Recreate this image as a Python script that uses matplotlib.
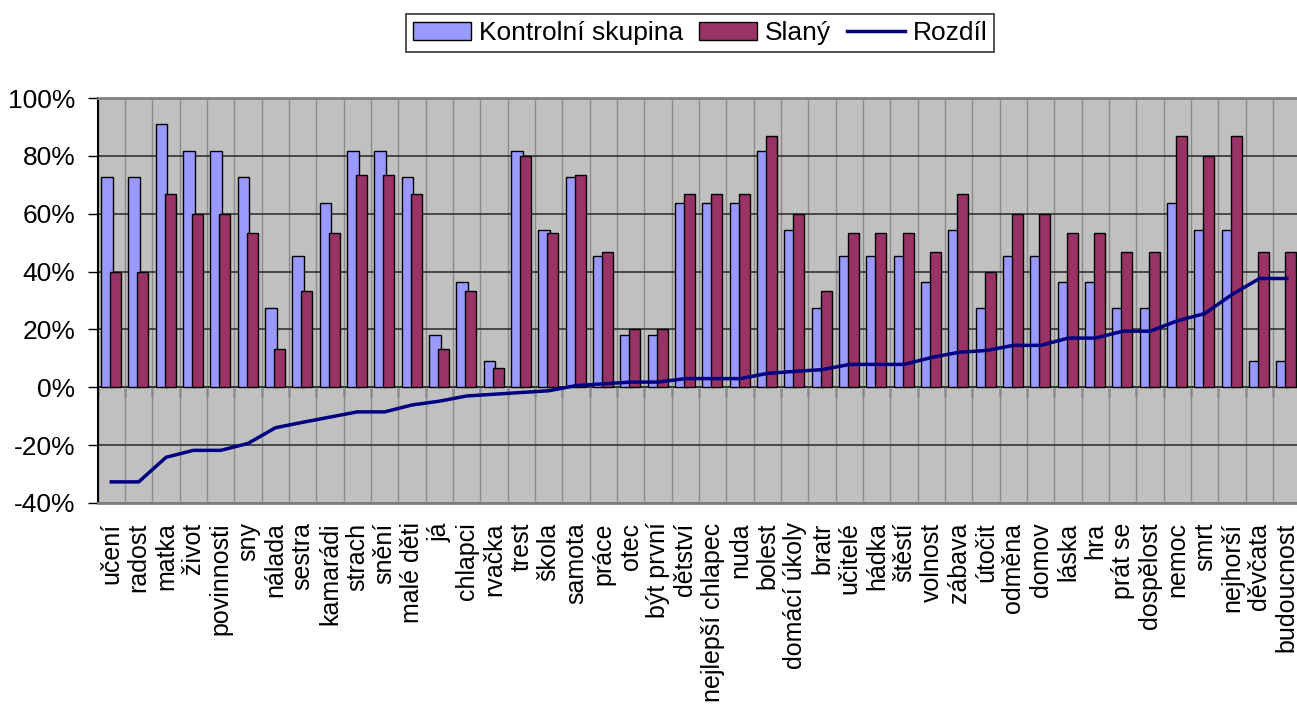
import numpy as np
import matplotlib
matplotlib.use("Agg")
import matplotlib.pyplot as plt
from matplotlib.patches import Patch
from matplotlib.lines import Line2D

plt.rcParams['font.family'] = ['Liberation Sans', 'DejaVu Sans']

# categories (sorted by difference)
categories = ["učení", "radost", "matka", "život", "povinnosti", "sny", "nálada",
              "sestra", "kamarádi", "strach", "snění", "malé děti", "já", "chlapci",
              "rvačka", "trest", "škola", "samota", "práce", "otec", "být první",
              "dětství", "nejlepší chlapec", "nuda", "bolest", "domácí úkoly", "bratr",
              "učitelé", "hádka", "štěstí", "volnost", "zábava", "útočit", "odměna",
              "domov", "láska", "hra", "prát se", "dospělost", "nemoc", "smrt",
              "nejhorší", "děvčata", "budoucnost"]

kontrolni = [72.7, 72.7, 90.9, 81.8, 81.8, 72.7, 27.3, 45.5, 63.6, 81.8, 81.8,
             72.7, 18.2, 36.4, 9.1, 81.8, 54.5, 72.7, 45.5, 18.2, 18.2, 63.6,
             63.6, 63.6, 81.8, 54.5, 27.3, 45.5, 45.5, 45.5, 36.4, 54.5, 27.3,
             45.5, 45.5, 36.4, 36.4, 27.3, 27.3, 63.6, 54.5, 54.5, 9.1, 9.1]

slany = [40.0, 40.0, 66.7, 60.0, 60.0, 53.3, 13.3, 33.3, 53.3, 73.3, 73.3,
         66.7, 13.3, 33.3, 6.7, 80.0, 53.3, 73.3, 46.7, 20.0, 20.0, 66.7,
         66.7, 66.7, 86.7, 60.0, 33.3, 53.3, 53.3, 53.3, 46.7, 66.7, 40.0,
         60.0, 60.0, 53.3, 53.3, 46.7, 46.7, 86.7, 80.0, 86.7, 46.7, 46.7]

rozdil = [-32.7, -32.7, -24.2, -21.8, -21.8, -19.4, -14.0, -12.1, -10.3, -8.5,
          -8.5, -6.1, -4.8, -3.0, -2.4, -1.8, -1.2, 0.6, 1.2, 1.8, 1.8, 3.0,
          3.0, 3.0, 4.8, 5.5, 6.1, 7.9, 7.9, 7.9, 10.3, 12.1, 12.7, 14.5, 14.5,
          17.0, 17.0, 19.4, 19.4, 23.0, 25.5, 32.1, 37.6, 37.6]

W, H = 1297, 715
fig = plt.figure(figsize=(W / 100, H / 100), dpi=100)
left, right, top, bottom = 97.7, 1300.5, 98, 503
ax = fig.add_axes([left / W, 1 - bottom / H, (right - left) / W, (bottom - top) / H])

x = np.arange(len(categories))
ax.set_facecolor('#C0C0C0')
ax.bar(x - 0.165, kontrolni, width=0.43, color='#9999FF', edgecolor='black',
       linewidth=1, zorder=3)
ax.bar(x + 0.15, slany, width=0.40, color='#993366', edgecolor='black',
       linewidth=1, zorder=3)
ax.plot(x, rozdil, color='#000080', linewidth=2.5, zorder=4)

ax.set_xlim(-0.5, len(categories) - 0.5)
ax.set_ylim(-40, 100)
ax.set_yticks(np.arange(-40, 101, 20))
ax.set_yticklabels([f"{v}%" for v in range(-40, 101, 20)], fontsize=19)
ax.tick_params(axis='y', direction='out', length=7, width=1, pad=9)

ax.set_xticks(x)
ax.set_xticklabels(categories, rotation=90, fontsize=18, ha='center', va='top')
ax.set_xticks(np.arange(len(categories) + 1) - 0.5, minor=True)
ax.tick_params(axis='x', which='both', length=0, pad=14)

ax.grid(axis='y', which='major', color='#333333', linewidth=1.2, zorder=1)
ax.grid(axis='x', which='minor', color='#8C8C8C', linewidth=1, zorder=1)
ax.set_axisbelow(True)

for s in ['top', 'right', 'bottom']:
    ax.spines[s].set_color('#808080')
    ax.spines[s].set_linewidth(2)
ax.spines['left'].set_color('black')
ax.spines['left'].set_linewidth(1.5)

# category axis at 0 with tick marks at category boundaries
sec = ax.secondary_xaxis(40 / 140)
sec.set_xticks(np.arange(len(categories) + 1) - 0.5)
sec.set_xticklabels([])
sec.tick_params(direction='out', length=7, width=1, color='black')
sec.spines['bottom'].set_color('black')
sec.spines['bottom'].set_linewidth(1.2)

handles = [Patch(facecolor='#9999FF', edgecolor='black', label='Kontrolní skupina'),
           Patch(facecolor='#993366', edgecolor='black', label='Slaný'),
           Line2D([0], [0], color='#000080', linewidth=2.5, label='Rozdíl')]
leg = fig.legend(handles=handles, loc='center', bbox_to_anchor=(700 / W, 1 - 33 / H),
                 ncol=3, fontsize=19, frameon=True, fancybox=False,
                 edgecolor='black', handlelength=2.2, handletextpad=0.3,
                 columnspacing=0.6, borderpad=0.25)
leg.get_frame().set_linewidth(1.2)

fig.savefig('out.png', dpi=100)
